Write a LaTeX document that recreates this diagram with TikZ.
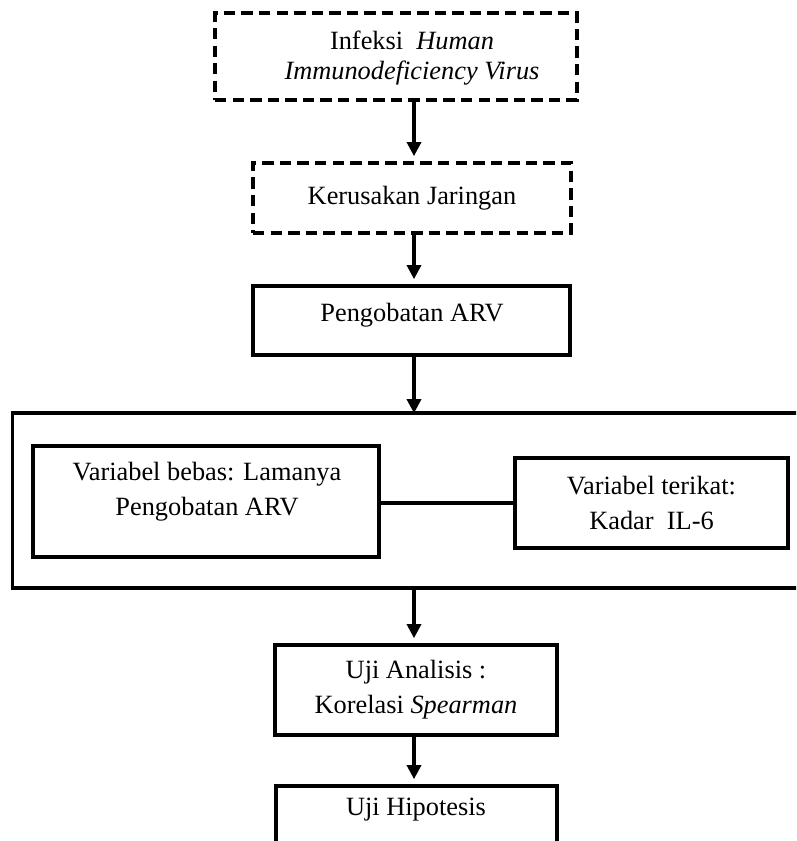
\documentclass[tikz,border=0pt]{standalone}
\usepackage{fontspec}
\setmainfont{Liberation Serif}
\usetikzlibrary{arrows.meta,calc,positioning}

\tikzset{
  txt/.style={align=center,inner sep=0pt,font=\fontsize{15}{20}\selectfont},
  box/.style={draw,line width=1.8pt,txt,inner sep=2pt},
  dashedbox/.style={box,dash pattern=on 6.5pt off 3.5pt},
  arr/.style={line width=1.8pt,-{Triangle[width=8pt,length=8pt]},shorten >=3pt},
  link/.style={line width=1.8pt}
}

\begin{document}
\begin{tikzpicture}[x=0.02cm,y=-0.02cm]
  \clip (0,0) rectangle (796,841);
  \coordinate (spine) at (414,0);

  % top chain
  \node[dashedbox,minimum width=7.24cm,minimum height=1.74cm] (hiv) at (396,56.5) {};
  \node[txt,font=\fontsize{15}{17.5}\selectfont] (hivtxt) at (412,58) {Infeksi \ \textit{Human}\\\textit{Immunodeficiency Virus}};
  \node[dashedbox,minimum width=6.36cm,minimum height=1.4cm] (rusak) at (412,198) {Kerusakan Jaringan};
  \node[box,minimum width=6.34cm,minimum height=1.38cm] (arv) at (411.5,320.5) {};
  \node[txt] (arvtxt) at (412,315) {Pengobatan ARV};

  % variables frame
  \node[box,minimum width=16.36cm,minimum height=3.5cm] (frame) at (421,500.5) {};
  \node[box,minimum width=6.92cm,minimum height=2.22cm] (bebas) at (206,501.5) {};
  \node[txt] (bebastxt) at (207,492) {Variabel bebas: Lamanya\\Pengobatan ARV};
  \node[box,minimum width=5.46cm,minimum height=1.8cm] (terikat) at (651.5,503) {Variabel terikat:\\Kadar \ IL-6};
  \draw[link] (terikat.west -| bebas.east) -- (terikat.west);

  % analysis
  \node[box,minimum width=5.64cm,minimum height=1.8cm] (uji) at (416,690) {Uji Analisis :\\Korelasi \textit{Spearman}};
  \node[box,minimum width=5.62cm,minimum height=1.2cm] (hipo) at (416.5,816) {};
  \node[txt] (hipotxt) at (416,810) {Uji Hipotesis};

  \draw[arr] (hiv.south -| spine) -- (rusak.north -| spine);
  \draw[arr] (rusak.south -| spine) -- (arv.north -| spine);
  \draw[arr] (arv.south -| spine) -- ([yshift=-4pt]frame.north -| spine);
  \draw[arr] (frame.south -| spine) -- (uji.north -| spine);
  \draw[arr] (uji.south -| spine) -- (hipo.north -| spine);
\end{tikzpicture}
\end{document}
